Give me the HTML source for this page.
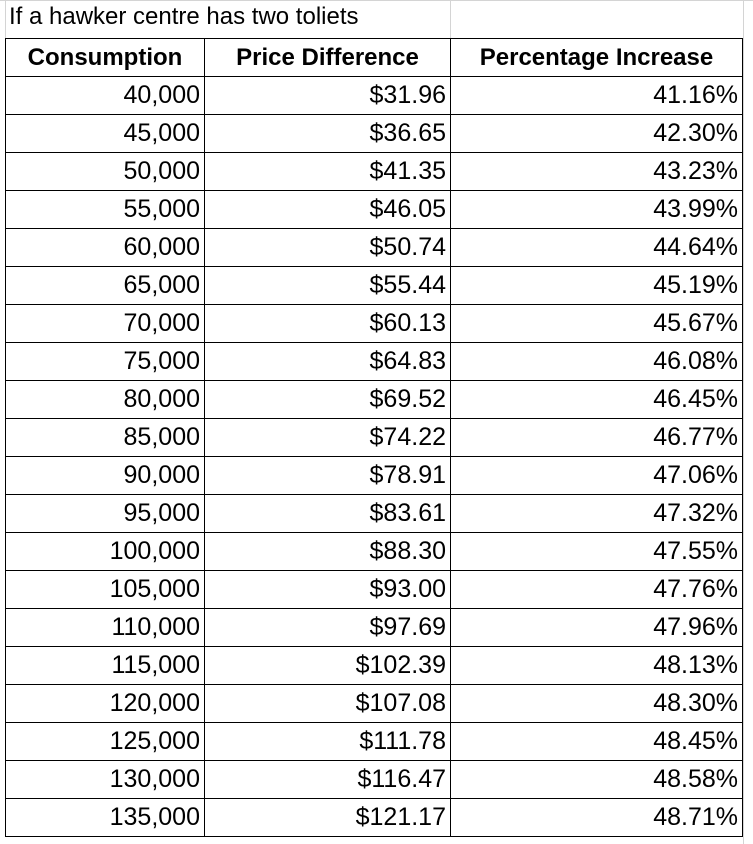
<!DOCTYPE html>
<html><head><meta charset="utf-8"><style>
body{margin:0;background:#fff;width:753px;height:844px;overflow:hidden;font-family:"Liberation Sans",Arial,sans-serif;}
.gl{position:absolute;background:#d4d4d4;}
#title{position:absolute;left:9px;top:3px;font-size:24px;color:#000;white-space:nowrap;}
table{position:absolute;left:5px;top:38px;border-collapse:collapse;table-layout:fixed;}
tr{height:38px;}
td,th{border:1px solid #000;height:37px;padding:0 4px;font-size:25px;font-weight:normal;line-height:37px;text-align:right;white-space:nowrap;box-sizing:border-box;}
th{font-weight:bold;text-align:center;font-size:24px;}
</style></head><body>
<div class="gl" style="left:0;top:0;width:753px;height:1px"></div>
<div class="gl" style="left:5px;top:0;width:1px;height:38px"></div>
<div class="gl" style="left:450px;top:0;width:1px;height:38px"></div>
<div class="gl" style="left:743px;top:0;width:1px;height:844px"></div>
<div id="title">If a hawker centre has two toliets</div>
<table>
<colgroup><col style="width:199px"><col style="width:246px"><col style="width:292px"></colgroup>
<thead><tr>
<th>Consumption</th>
<th>Price Difference</th>
<th>Percentage Increase</th>
</tr></thead>
<tbody id="tb"></tbody>
</table>
<script>
const consumption=["40,000","45,000","50,000","55,000","60,000","65,000","70,000","75,000","80,000","85,000","90,000","95,000","100,000","105,000","110,000","115,000","120,000","125,000","130,000","135,000"];
const priceDiff=["$31.96","$36.65","$41.35","$46.05","$50.74","$55.44","$60.13","$64.83","$69.52","$74.22","$78.91","$83.61","$88.30","$93.00","$97.69","$102.39","$107.08","$111.78","$116.47","$121.17"];
const pctInc=["41.16%","42.30%","43.23%","43.99%","44.64%","45.19%","45.67%","46.08%","46.45%","46.77%","47.06%","47.32%","47.55%","47.76%","47.96%","48.13%","48.30%","48.45%","48.58%","48.71%"];
const tb=document.getElementById('tb');
for(let i=0;i<consumption.length;i++){
  const tr=document.createElement('tr');
  
  
  [[consumption[i],'consumption-cell'],[priceDiff[i],'price-difference-cell'],[pctInc[i],'percentage-increase-cell']].forEach(([v,n])=>{
    const td=document.createElement('td');
    
    
    td.textContent=v;tr.appendChild(td);
  });
  tb.appendChild(tr);
}
</script>
</body></html>
